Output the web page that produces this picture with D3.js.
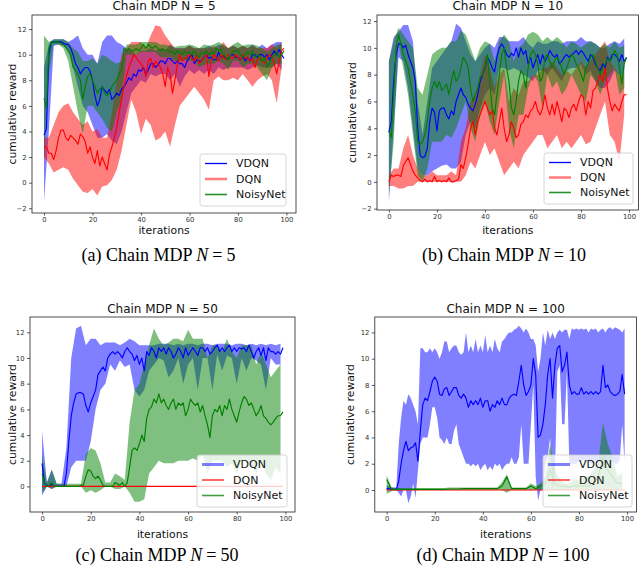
<!DOCTYPE html>
<html>
<head>
<meta charset="utf-8">
<script src="https://cdn.jsdelivr.net/npm/d3@7"></script>
<style>
  body { margin: 0; background: #fff; }
</style>
</head>
<body>
<svg id="fig" width="640" height="567" font-family="DejaVu Sans, sans-serif"></svg>
<script>
// iteration grids used by the arrays below
const iters = d3.range(100);           // every iteration
const iters2 = d3.range(0, 100, 2);    // every second iteration
const ends = [0, 99];

const seriesNames = ["VDQN", "DQN", "NoisyNet"];
const xTicks = [0, 20, 40, 60, 80, 100];
const yTicks = [-2, 0, 2, 4, 6, 8, 10, 12];

// ---- (a) N = 5 ----
const a_vdqn = [3.7,4.2,10.0,11.0,11.0,11.0,11.0,11.0,10.9,10.8,
  10.8,10.5,10.0,9.3,9.0,8.5,8.8,9.0,9.0,8.7,
  8.0,6.8,6.0,6.5,7.5,7.2,7.0,7.3,6.5,6.7,
  7.0,6.8,7.3,7.5,7.8,8.2,8.0,8.5,8.3,8.8,
  8.7,9.0,8.5,8.8,9.3,9.3,9.0,9.2,9.5,9.5,
  9.3,9.7,9.7,9.5,9.3,9.5,9.3,9.3,9.0,9.5,
  9.8,10.0,9.3,9.6,9.5,9.5,9.8,10.0,9.7,9.8,
  9.6,9.6,10.2,9.8,9.9,9.7,9.6,10.0,10.0,9.8,
  9.8,9.6,9.9,9.5,9.8,9.5,10.0,10.0,9.8,10.0,
  10.0,9.8,10.0,9.6,10.0,10.3,10.0,10.4,10.0,9.7];
const a_vdqn_lo = [-1.5,4.0,10.7,10.8,10.7,10.3,9.0,7.5,6.0,5.5, 4.5,3.5,3.5,3.8,3.3,3.0,4.0,5.5,7.0,7.5,
  8.0,7.8,8.5,8.3,8.5,8.5,8.0,8.5,7.5,8.3, 8.8,8.5,8.8,8.5,8.8,8.5,9.0,8.8,9.0,9.0,
  9.0,9.0,8.8,9.0,9.2,9.0,9.0,9.0,9.3,8.8];
const a_vdqn_hi = [9.0,10.8,11.2,11.2,11.2,11.0,11.2,11.5,10.5,10.0, 10.0,9.3,11.0,11.5,11.5,11.0,10.8,10.5,10.3,10.0,
  10.3,10.3,10.5,10.3,10.5,10.3,10.8,10.5,10.5,10.5, 10.7,10.5,10.5,10.5,10.7,10.5,10.8,10.7,10.5,10.7,
  10.5,10.7,10.5,10.8,10.5,10.8,10.5,10.8,11.0,11.0];

const a_dqn = [2.8,2.8,2.3,2.3,1.8,2.5,3.5,4.1,4.1,3.5,
  3.3,3.7,3.5,3.3,3.0,3.8,3.6,3.2,2.3,2.8,
  2.0,1.5,2.5,1.3,2.0,1.5,1.0,2.2,2.8,3.5,
  4.3,5.5,6.5,7.5,8.3,9.0,9.5,10.0,9.8,9.5,
  9.3,9.0,8.3,9.5,9.7,9.0,9.5,9.3,9.0,8.5,
  7.5,9.0,8.5,7.0,8.0,9.2,10.0,9.5,9.7,9.8,
  10.0,9.7,9.5,10.0,9.3,9.5,9.8,10.0,8.3,9.5,
  10.0,9.8,9.5,10.0,9.8,9.6,10.0,9.8,9.7,10.0,
  9.8,9.6,10.0,9.7,9.8,9.5,9.7,9.0,9.6,9.8,
  9.5,9.3,9.8,10.0,9.8,9.3,8.5,9.5,10.3,10.5];
const a_dqn_lo = [2.0,1.5,0.8,1.0,1.2,1.0,0.3,-0.2,-0.7,-0.8, -0.5,-1.0,-0.3,-0.2,0.2,1.0,2.5,4.5,6.5,5.5,
  3.8,5.0,4.5,3.3,3.5,4.0,2.8,4.5,6.0,6.5, 7.0,7.5,7.0,6.5,5.7,8.0,8.3,8.0,8.0,8.2,
  8.0,8.5,8.0,7.5,8.0,8.3,8.5,8.0,6.2,9.0];
const a_dqn_hi = [3.5,3.5,4.5,5.5,6.0,6.2,5.5,5.0,4.5,4.8, 4.0,4.2,3.5,3.5,5.5,8.0,10.0,10.5,11.0,11.0,
  11.0,10.5,11.5,12.3,12.2,11.5,11.0,10.5,10.5,10.5, 10.7,10.5,10.5,10.5,10.5,10.7,10.5,11.0,10.5,10.7,
  10.5,10.7,10.5,10.7,10.5,10.5,10.5,10.8,10.5,11.0];

const a_noisy = [6.6,5.8,10.5,11.0,11.0,11.0,11.0,10.9,10.8,10.6,
  10.3,10.0,9.0,8.8,8.5,8.0,6.5,7.5,8.3,8.5,
  8.0,7.5,7.0,7.3,7.5,7.0,6.8,7.0,7.5,7.8,
  8.0,8.5,8.8,10.5,10.3,10.5,10.3,10.3,10.5,10.3,
  10.5,10.8,10.5,10.8,10.6,10.5,10.7,10.5,10.3,10.5,
  10.3,10.4,10.2,10.3,10.0,10.3,10.2,10.0,10.3,10.1,
  10.2,10.0,10.3,10.0,9.8,10.2,10.0,10.3,10.0,10.2,
  10.1,10.5,10.3,10.4,10.0,9.8,9.6,10.0,10.3,10.2,
  10.4,10.0,9.8,10.0,10.2,10.0,10.3,9.8,10.0,9.7,
  9.5,9.8,9.0,9.3,9.8,10.0,10.2,9.8,10.0,10.3];
const a_noisy_lo = [1.7,8.5,10.8,10.8,10.5,9.5,7.5,5.5,3.8,6.0, 6.0,5.5,5.0,4.3,4.0,5.5,6.5,10.0,10.0,10.0,
  10.2,10.2,10.2,10.2,9.8,9.8,9.8,9.5,9.5,9.6, 9.5,9.5,9.0,9.2,9.3,9.3,9.5,9.3,8.8,9.5,
  9.5,9.0,9.3,9.3,9.0,8.5,8.0,9.0,9.3,9.3];
const a_noisy_hi = [11.5,11.0,11.2,11.2,11.2,11.0,10.5,10.2,9.5,9.5, 9.7,9.3,10.0,9.8,9.5,9.3,9.5,10.8,10.8,10.8,
  11.0,11.0,11.0,11.0,10.8,10.8,10.7,10.6,10.7,10.7, 10.8,10.7,10.5,10.8,10.7,10.8,11.0,10.8,10.5,10.8,
  11.0,10.7,10.8,10.8,10.7,10.5,10.2,10.5,10.8,10.8];

// ---- (b) N = 10 ----
const b_vdqn = [3.7,4.5,7.5,9.5,10.3,10.3,10.0,10.2,9.5,9.0,
  8.5,7.5,4.0,2.0,1.8,1.9,2.5,4.5,5.5,5.2,
  3.8,5.3,5.5,5.5,5.0,4.7,5.3,5.0,6.0,6.5,
  7.0,6.5,6.3,5.8,5.5,5.3,5.8,6.5,7.5,8.0,
  8.5,9.3,9.0,8.5,8.2,9.3,10.0,10.3,10.0,9.5,
  9.3,9.6,9.4,10.0,9.3,10.0,9.5,9.8,8.8,9.3,
  8.5,9.0,9.5,8.8,9.5,9.0,9.3,9.8,9.5,9.3,
  9.5,8.8,9.0,9.3,9.5,9.3,9.5,9.6,9.8,9.5,
  9.8,9.6,9.3,9.0,9.5,9.3,8.8,8.5,8.3,8.8,
  8.5,9.3,9.0,9.5,9.5,9.3,9.0,9.5,9.0,9.3];
const b_vdqn_lo = [-1.5,4.0,9.3,9.0,7.0,4.0,1.0,0.5,0.5,0.8, 1.0,1.2,1.3,1.0,1.0,1.5,3.5,4.5,4.0,5.5,
  6.5,7.0,6.5,8.5,8.5,8.3,8.5,8.3,8.0,7.8, 7.5,8.3,8.3,8.0,8.5,8.0,7.5,8.3,8.5,8.5,
  8.8,8.0,8.3,7.5,7.0,7.0,7.5,8.3,8.0,8.0];
const b_vdqn_hi = [9.0,10.8,11.2,11.7,11.7,10.5,6.0,3.5,6.0,8.5, 9.0,9.5,10.0,10.5,11.8,11.5,10.5,9.5,9.0,9.5,
  10.0,10.3,10.0,10.8,10.8,10.5,10.5,10.5,10.8,10.3, 10.0,10.5,10.3,10.3,10.5,10.5,10.3,10.5,10.5,10.5,
  10.8,10.5,10.5,10.3,10.0,10.0,10.3,10.5,10.3,10.7];

const b_dqn = [0.0,0.5,0.4,0.5,0.5,0.4,1.2,1.5,1.8,1.3,
  0.8,0.5,0.3,0.1,0.0,0.2,0.0,0.1,0.0,0.4,
  0.0,0.1,0.0,0.1,0.0,0.3,0.0,0.0,0.1,0.2,
  1.3,1.0,1.8,2.8,4.0,4.5,3.5,4.5,5.0,5.5,
  6.0,5.5,5.0,5.3,4.0,3.5,4.5,5.5,4.0,3.0,
  3.5,4.5,4.0,3.3,3.5,4.3,4.5,5.0,4.8,5.3,
  5.5,6.0,5.3,5.0,5.5,6.5,5.5,5.0,5.8,5.0,
  6.0,5.3,4.5,5.5,5.3,4.8,5.5,5.8,5.3,6.0,
  6.5,6.3,5.0,6.0,5.5,6.8,7.0,7.5,8.0,7.5,
  8.5,7.0,6.0,5.3,5.8,5.5,5.3,6.0,6.5,6.5];
const b_dqn_lo = [-0.3,-0.3,-0.5,-0.5,-0.3,-0.3,0.0,0.0,0.0,0.0, 0.0,0.0,0.0,0.0,0.0,0.0,0.5,1.5,1.0,2.0,
  3.0,2.0,2.5,1.5,0.5,1.0,1.5,1.0,2.0,2.5, 3.0,3.5,3.5,2.5,3.0,3.5,2.5,3.0,2.5,3.0,
  3.5,2.8,3.0,4.0,5.0,6.0,3.5,3.0,1.5,5.0];
const b_dqn_hi = [0.5,1.0,1.0,2.5,3.5,2.0,1.0,0.5,0.5,0.8, 0.5,0.5,0.5,0.8,0.5,3.0,4.0,6.0,6.5,8.0,
  9.5,8.5,7.0,8.0,8.5,6.0,7.0,6.5,7.5,7.5, 8.0,8.0,8.5,8.5,9.0,8.5,8.0,8.3,8.0,8.5,
  9.0,8.5,9.0,9.5,10.0,10.5,9.0,8.5,8.0,8.0];

const b_noisy = [3.8,3.3,6.5,10.0,11.0,10.3,9.5,9.0,8.5,7.5,
  6.5,5.3,3.0,2.8,3.0,3.5,4.5,6.0,7.0,7.5,
  7.0,7.5,6.8,7.0,7.3,6.5,7.5,8.3,7.5,7.8,
  8.5,9.3,9.0,8.5,7.0,6.0,6.5,7.0,7.8,8.0,
  8.5,9.5,7.5,5.5,5.0,6.5,8.0,9.5,10.0,8.5,
  7.5,5.5,5.0,6.0,7.5,8.3,8.0,7.0,8.5,9.5,
  9.8,9.5,8.8,7.5,7.8,9.3,9.5,9.0,8.5,9.0,
  9.3,9.0,8.5,8.0,8.5,9.0,9.5,9.3,8.8,8.5,
  8.0,7.5,8.5,8.8,9.3,9.5,9.0,8.5,8.0,8.5,
  8.8,9.2,9.0,9.3,9.8,9.5,8.5,7.3,8.8,9.3];
const b_noisy_lo = [-1.0,3.0,10.3,8.5,6.5,3.5,0.5,0.0,1.0,3.0, 3.0,3.0,3.5,3.3,4.0,5.0,6.0,4.0,3.0,5.0,
  6.0,4.5,3.5,6.0,8.0,4.0,2.5,5.0,5.0,7.0, 8.0,7.5,5.5,8.0,7.0,7.5,6.5,7.0,8.0,7.3,
  6.5,6.0,8.0,7.5,6.5,7.5,8.0,8.5,6.5,7.0];
const b_noisy_hi = [9.0,10.5,11.5,11.0,10.5,10.0,7.0,6.5,8.0,9.5, 9.8,10.0,10.0,10.5,10.5,11.3,11.0,10.0,9.0,10.0,
  10.5,10.3,9.0,10.5,11.0,10.5,9.0,10.0,10.3,11.0, 11.2,11.0,10.5,10.8,10.5,10.8,10.5,10.0,10.5,10.3,
  10.0,10.3,10.5,10.3,10.0,10.3,10.0,10.5,10.0,10.2];

// ---- (c) N = 50 ----
const c_vdqn = [1.8,0.2,0.1,0.0,0.2,0.0,0.0,0.0,0.0,0.0,
  1.0,3.5,5.5,6.5,7.2,7.3,7.3,7.2,6.3,5.8,
  6.5,7.0,7.5,8.7,9.0,9.3,9.0,10.0,10.3,10.5,
  10.3,10.5,10.3,10.0,10.5,10.8,10.5,10.3,9.8,10.2,
  9.5,10.0,9.0,10.5,10.2,10.8,10.5,10.0,10.8,10.5,
  10.8,10.3,10.8,10.5,10.0,10.3,10.8,10.5,10.0,10.8,
  10.2,10.5,10.8,10.5,10.2,10.8,10.8,10.5,10.8,10.3,
  10.5,10.8,11.0,10.5,10.8,10.5,10.8,11.0,10.5,10.8,
  10.5,10.8,10.7,10.8,10.5,11.0,10.5,10.0,10.5,10.8,
  10.2,10.8,9.8,10.8,10.5,10.5,10.3,10.5,10.3,10.8];
const c_vdqn_lo = [-0.7,0.0,-0.2,0.0,0.0,0.0,1.5,2.0,2.0,2.0, 3.5,6.0,7.5,8.0,9.5,9.0,9.8,9.3,9.5,7.5,
  7.0,7.5,9.0,9.5,10.0,9.8,8.5,9.0,10.0,8.0, 9.5,10.0,7.5,10.0,10.0,7.5,10.3,9.0,10.2,10.0,
  8.0,10.0,9.0,10.0,9.8,9.5,7.5,10.0,9.5,9.5];
const c_vdqn_hi = [4.3,0.3,1.3,0.2,0.2,3.0,10.0,12.3,12.5,11.0, 11.5,11.5,11.0,11.2,11.2,11.2,11.0,11.2,11.5,11.3,
  11.0,11.0,11.0,11.0,11.1,11.1,11.1,11.0,11.1,11.0, 11.1,11.1,11.0,11.1,11.1,11.0,11.1,11.1,11.1,11.0,
  11.1,11.1,11.0,11.1,11.0,11.1,11.0,11.1,11.0,11.1];

const c_dqn = [0, 0];

const c_noisy = [1.0,0.3,0.0,0.1,0.3,0.0,0.0,0.0,0.0,0.0,
  0.0,0.0,0.0,0.0,0.0,0.0,0.1,0.1,0.8,1.3,
  1.2,0.8,0.6,0.8,0.5,0.1,0.0,0.0,0.0,0.0,
  0.3,0.2,0.1,0.3,0.0,0.3,1.5,2.8,3.0,2.8,
  3.3,4.0,3.5,5.3,6.0,6.2,6.8,6.5,7.2,6.5,
  6.8,6.3,6.0,6.5,6.8,6.0,6.5,6.3,6.5,5.5,
  6.0,6.8,6.5,6.3,6.5,5.8,6.3,5.5,4.8,3.8,
  5.5,6.0,5.8,6.3,5.5,6.3,6.0,6.8,6.0,5.5,
  5.0,5.8,6.5,7.0,6.8,6.3,6.5,6.0,5.5,5.8,
  6.3,5.5,5.3,5.0,4.8,5.0,5.3,5.5,5.5,5.8];
const c_noisy_lo = [-0.5,0.0,-0.2,0.0,0.0,0.0,0.0,0.0,0.0,-0.5, -0.3,-0.5,-0.3,0.0,0.0,-0.2,-0.2,0.0,-0.5,-1.2,
  -1.2,-1.0,1.0,1.5,2.0,1.8,1.8,1.8,2.0,2.0, 2.0,2.2,2.0,2.5,1.0,2.0,2.0,2.0,1.5,1.8,
  1.0,2.0,2.0,1.5,1.0,2.0,1.0,0.5,1.5,1.0];
const c_noisy_hi = [2.5,0.3,1.3,0.2,0.2,0.2,0.2,0.2,0.2,2.5, 3.0,2.8,1.8,0.3,0.3,1.0,0.8,0.5,5.0,7.5,
  8.0,9.5,11.0,12.3,11.5,11.0,11.2,11.5,11.5,11.3, 12.2,11.5,11.5,11.5,10.0,11.0,11.0,10.5,11.5,10.5,
  10.0,11.0,11.0,11.0,9.5,10.5,9.5,8.5,9.0,9.5];

// ---- (d) N = 100 ----
const d_vdqn = [0.1,0.1,0.05,0.05,0.0,0.7,2.0,3.0,3.7,3.0,
  3.2,3.3,3.6,2.2,4.5,6.5,7.0,6.8,7.5,8.3,
  8.6,8.3,7.3,7.2,7.7,7.8,7.2,7.5,7.8,7.8,
  7.2,7.0,7.3,7.0,6.3,6.8,6.5,6.8,6.5,7.0,
  6.3,6.8,6.8,6.0,6.5,6.3,6.8,6.5,7.0,6.5,
  6.5,7.0,7.2,7.3,7.2,8.3,9.5,8.0,7.2,7.5,
  8.0,10.0,8.8,4.0,4.2,5.0,6.5,8.8,10.0,7.0,
  9.5,10.8,11.0,9.0,9.5,10.5,8.0,7.3,7.5,7.3,
  7.3,7.8,7.3,7.5,7.3,7.5,7.3,7.5,7.3,7.5,
  9.5,7.8,8.0,7.5,7.3,7.2,7.3,7.5,8.8,7.3];
const d_vdqn_lo = [0.0,0.0,0.0,0.0,0.0,-0.2,-0.5,0.0,0.0,-1.0,
  -0.5,0.5,-0.6,1.5,3.5,4.0,4.0,4.0,5.0,6.3,
  6.3,5.5,4.0,3.8,3.5,4.0,3.5,3.5,4.5,5.0,
  3.5,3.0,2.5,2.0,2.0,1.8,2.0,1.8,2.0,1.5,
  1.8,2.0,1.5,1.8,1.5,2.0,1.8,2.0,1.5,1.8,
  2.0,2.0,2.5,2.0,2.0,2.5,5.0,2.0,2.0,2.0,
  5.0,8.0,1.0,-0.8,0.0,0.0,2.0,2.5,4.0,0.0,
  1.0,9.0,9.5,5.0,5.0,9.0,2.0,2.0,2.0,2.0,
  2.2,2.0,2.3,2.0,2.2,2.0,2.0,2.3,2.0,2.2,
  2.0,2.0,2.3,2.0,2.2,2.0,2.0,2.3,5.0,2.0];
const d_vdqn_hi = [0.3,0.3,0.2,0.2,0.2,3.5,5.5,6.8,6.5,7.3,
  7.0,6.5,6.0,5.0,10.8,10.8,10.5,10.5,10.8,10.5,
  10.8,10.5,10.0,10.5,11.3,11.3,10.5,10.8,11.0,11.0,
  10.5,10.3,10.5,12.0,10.5,11.0,10.5,11.5,10.5,11.0,
  10.5,11.8,10.5,11.0,10.5,11.5,10.8,10.5,11.3,11.5,
  11.8,12.0,12.0,12.2,12.3,12.5,12.3,12.0,12.3,12.0,
  11.5,11.5,11.0,9.0,10.0,12.0,11.0,12.2,11.5,12.0,
  11.5,12.0,12.2,12.0,12.2,12.2,11.5,12.3,12.2,12.3,
  12.2,12.3,12.2,12.3,12.0,12.3,12.2,12.3,12.0,12.2,
  12.3,12.0,12.3,12.4,12.2,12.4,12.3,12.2,12.0,12.3];

const d_dqn = [0, 0];

const d_noisy = [0.8,0.05,0.05,0.05,0.05,0.05,0.05,0.05,0.05,0.05, 0.05,0.05,0.05,0.08,0.08,0.08,0.1,0.1,0.1,0.1,
  0.1,0.1,0.1,0.1,0.3,1.0,0.1,0.1,0.1,0.1, 0.3,0.1,0.3,0.5,1.5,0.5,0.3,0.3,0.2,0.3,
  0.3,0.3,0.3,0.5,1.0,2.5,1.5,1.0,0.5,0.5];
const d_noisy_lo = [-0.3,-0.1,0,0,0,0,0,0,0,0, 0,0,0,0,0,0,0,0,0,0,
  0,0,0,0,0,-0.2,0,0,0,0, 0,0,0,0,0,0,0,0,0,0,
  0,0,0,0,0,0,0,0,0,0];
const d_noisy_hi = [1.1,0.2,0.15,0.15,0.15,0.15,0.15,0.15,0.15,0.15, 0.15,0.15,0.15,0.2,0.2,0.2,0.2,0.2,0.2,0.2,
  0.2,0.2,0.2,0.2,0.6,1.2,0.2,0.2,0.2,0.2, 0.5,0.3,0.5,1.0,3.5,1.5,0.8,0.5,0.5,0.8,
  0.8,1.0,1.0,1.5,2.0,5.1,3.5,2.5,1.0,1.3];

const colors = { VDQN: "#0000ff", DQN: "#ff0000", NoisyNet: "#008000" };

// legend handle styles differ between the top and bottom row
const legendTop = {
  VDQN: { w: 1.3, o: 1 }, DQN: { w: 2.6, o: 0.5 }, NoisyNet: { w: 1.6, o: 0.85 }
};
const legendBottom = {
  VDQN: { w: 3, o: 0.5 }, DQN: { w: 1.2, o: 1 }, NoisyNet: { w: 1.6, o: 0.75 }
};

const panels = [
  { id: "a", left: 32, right: 296, top: 15, bottom: 213, yDomain: [-2.37, 13.1],
    title: "Chain MDP N = 5", titleY: 10, ylabX: 16, xlabY: 234,
    caption: ["(a)", "5"], capX: 158.5, capY: 261,
    legend: { x: 200, y: 154, w: 86, h: 52 }, legendStyle: legendTop,
    series: [
      { name: "VDQN", mean: [iters, a_vdqn], band: [iters2, a_vdqn_lo, a_vdqn_hi] },
      { name: "DQN", mean: [iters, a_dqn], band: [iters2, a_dqn_lo, a_dqn_hi] },
      { name: "NoisyNet", mean: [iters, a_noisy], band: [iters2, a_noisy_lo, a_noisy_hi] }
    ] },
  { id: "b", left: 377, right: 638.5, top: 15, bottom: 210, yDomain: [-2.1, 12.45],
    title: "Chain MDP N = 10", titleY: 10, ylabX: 356, xlabY: 234,
    caption: ["(b)", "10"], capX: 504, capY: 261,
    legend: { x: 544, y: 153, w: 89, h: 51 }, legendStyle: legendTop,
    series: [
      { name: "VDQN", mean: [iters, b_vdqn], band: [iters2, b_vdqn_lo, b_vdqn_hi] },
      { name: "DQN", mean: [iters, b_dqn], band: [iters2, b_dqn_lo, b_dqn_hi] },
      { name: "NoisyNet", mean: [iters, b_noisy], band: [iters2, b_noisy_lo, b_noisy_hi] }
    ] },
  { id: "c", left: 30, right: 295, top: 317, bottom: 512, yDomain: [-1.99, 13.19],
    title: "Chain MDP N = 50", titleY: 313, ylabX: 16, xlabY: 537.5,
    caption: ["(c)", "50"], capX: 157, capY: 561,
    legend: { x: 197, y: 455, w: 90, h: 52 }, legendStyle: legendBottom,
    series: [
      { name: "VDQN", mean: [iters, c_vdqn], band: [iters2, c_vdqn_lo, c_vdqn_hi] },
      { name: "DQN", mean: [ends, c_dqn] },
      { name: "NoisyNet", mean: [iters, c_noisy], band: [iters2, c_noisy_lo, c_noisy_hi] }
    ] },
  { id: "d", left: 374.8, right: 636.5, top: 317, bottom: 512, yDomain: [-1.675, 13.175],
    title: "Chain MDP N = 100", titleY: 313, ylabX: 354, xlabY: 537.5,
    caption: ["(d)", "100"], capX: 503, capY: 561,
    legend: { x: 543, y: 455, w: 89, h: 52 }, legendStyle: legendBottom,
    series: [
      { name: "VDQN", mean: [iters, d_vdqn], band: [iters, d_vdqn_lo, d_vdqn_hi] },
      { name: "DQN", mean: [ends, d_dqn] },
      { name: "NoisyNet", mean: [iters2, d_noisy], band: [iters2, d_noisy_lo, d_noisy_hi] }
    ] }
];

const svg = d3.select("#fig");

function styleAxis(g) {
  g.attr("font-family", "DejaVu Sans, sans-serif").attr("font-size", 6.8);
  g.select(".domain").remove();
  g.selectAll(".tick line").attr("stroke", "#333").attr("stroke-width", 0.8);
  g.selectAll(".tick text").attr("fill", "#333");
}

function drawPanel(p) {
  const x = d3.scaleLinear().domain([-4.95, 103.95]).range([p.left, p.right]);
  const y = d3.scaleLinear().domain(p.yDomain).range([p.bottom, p.top]);
  const g = svg.append("g");

  g.append("clipPath").attr("id", "clip-" + p.id)
    .append("rect")
    .attr("x", p.left).attr("y", p.top)
    .attr("width", p.right - p.left).attr("height", p.bottom - p.top);

  const plot = g.append("g").attr("clip-path", `url(#clip-${p.id})`);

  // shaded bands first, then the mean lines
  p.series.forEach(s => {
    if (!s.band) return;
    const [bx, lo, hi] = s.band;
    const area = d3.area()
      .x((d, i) => x(bx[i]))
      .y0((d, i) => y(lo[i]))
      .y1((d, i) => y(hi[i]));
    plot.append("path")
      .datum(lo)
      .attr("d", area)
      .attr("fill", colors[s.name])
      .attr("fill-opacity", 0.5);
  });

  p.series.forEach(s => {
    const [mx, my] = s.mean;
    const line = d3.line().x((d, i) => x(mx[i])).y(d => y(d));
    plot.append("path")
      .datum(my)
      .attr("d", line)
      .attr("fill", "none")
      .attr("stroke", colors[s.name])
      .attr("stroke-width", 1.15)
      .attr("stroke-linejoin", "round");
  });

  // axes
  g.append("g")
    .attr("transform", `translate(0,${p.bottom})`)
    .call(d3.axisBottom(x).tickValues(xTicks).tickSize(2.5).tickPadding(1.5))
    .call(styleAxis);

  const yt = yTicks.filter(t => t >= p.yDomain[0] && t <= p.yDomain[1]);
  g.append("g")
    .attr("transform", `translate(${p.left},0)`)
    .call(d3.axisLeft(y).tickValues(yt).tickSize(3).tickPadding(2.5))
    .call(styleAxis);

  g.append("rect")
    .attr("x", p.left).attr("y", p.top)
    .attr("width", p.right - p.left).attr("height", p.bottom - p.top)
    .attr("fill", "none").attr("stroke", "#222").attr("stroke-width", 0.8);

  const cx = (p.left + p.right) / 2;
  const cy = (p.top + p.bottom) / 2;

  g.append("text")
    .attr("x", cx).attr("y", p.titleY)
    .attr("text-anchor", "middle").attr("font-size", 12).attr("fill", "#111")
    .text(p.title);

  g.append("text")
    .attr("transform", `translate(${p.ylabX},${cy}) rotate(-90)`)
    .attr("text-anchor", "middle").attr("font-size", 10.8).attr("fill", "#111")
    .text("cumulative reward");

  g.append("text")
    .attr("x", cx).attr("y", p.xlabY)
    .attr("text-anchor", "middle").attr("font-size", 10.8).attr("fill", "#111")
    .text("iterations");

  // legend
  const L = p.legend;
  const lg = g.append("g").attr("transform", `translate(${L.x},${L.y})`);
  lg.append("rect")
    .attr("width", L.w).attr("height", L.h).attr("rx", 2.5)
    .attr("fill", "#fff").attr("fill-opacity", 0.8)
    .attr("stroke", "#ccc").attr("stroke-width", 0.8);
  const rowY = d3.scalePoint().domain(seriesNames).range([9.5, L.h - 11.5]);
  seriesNames.forEach(n => {
    const st = p.legendStyle[n];
    lg.append("line")
      .attr("x1", 5).attr("x2", 27)
      .attr("y1", rowY(n)).attr("y2", rowY(n))
      .attr("stroke", colors[n]).attr("stroke-width", st.w).attr("stroke-opacity", st.o);
    lg.append("text")
      .attr("x", 36).attr("y", rowY(n)).attr("dy", "0.36em")
      .attr("font-size", 11).attr("fill", "#111")
      .text(n);
  });

  // caption below the panel (math-style spacing around "=")
  const cap = svg.append("text")
    .attr("x", p.capX).attr("y", p.capY)
    .attr("text-anchor", "middle")
    .attr("font-family", "Liberation Serif, serif")
    .attr("font-size", 18)
    .attr("fill", "#000");
  cap.append("tspan").text(p.caption[0] + " Chain MDP ");
  cap.append("tspan").attr("font-style", "italic").text("N");
  cap.append("tspan").attr("dx", 4).text("=");
  cap.append("tspan").attr("dx", 4).text(p.caption[1]);
}

panels.forEach(drawPanel);
</script>
</body>
</html>
